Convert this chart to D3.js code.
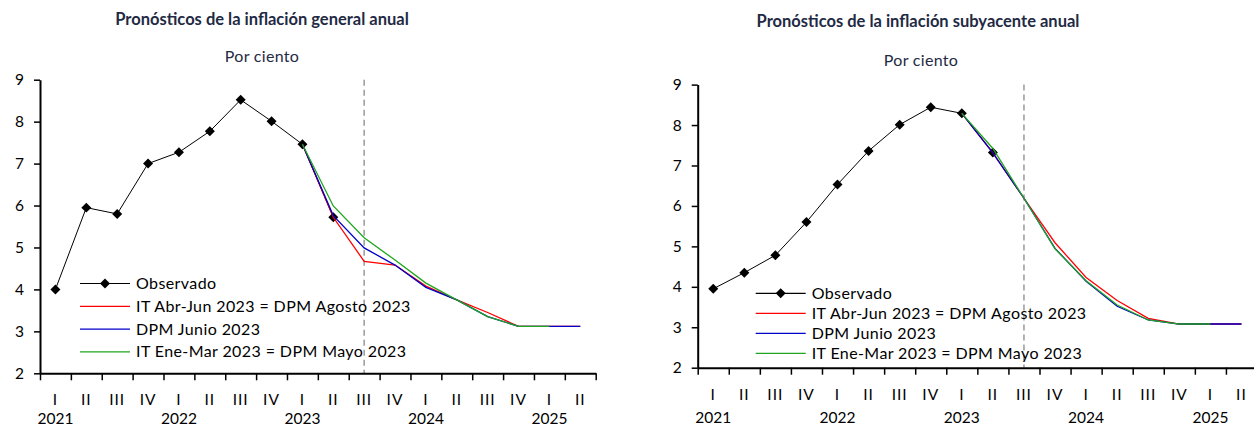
<!DOCTYPE html>
<html><head><meta charset="utf-8">
<script src="https://cdn.jsdelivr.net/npm/d3@7"></script>
<style>
html,body{margin:0;padding:0;background:#fff;}
svg{display:block;}
text{font-family:Lato,"Open Sans",sans-serif;}
</style></head>
<body>
<svg id="c" width="1254" height="426"></svg>
<script>
const quarters = ["I","II","III","IV","I","II","III","IV","I","II","III","IV","I","II","III","IV","I","II"];
const years = ["2021","2022","2023","2024","2025"];
const yearIndex = [0,4,8,12,16];
const yTicks = [2,3,4,5,6,7,8,9];
const forecastStart = 8;   // 2023 I
const dashIndex = 10;      // 2023 III

// Left: inflación general
const generalObs     = [4.0,5.95,5.8,7.0,7.27,7.77,8.52,8.01,7.46,5.72];
const generalAbrJun  = [7.46,5.72,4.67,4.58,4.08,3.75,3.45,3.12,3.12,3.12];
const generalJunio   = [7.46,5.76,4.99,4.58,4.05,3.75,3.35,3.12,3.12,3.12];
const generalEneMar  = [7.46,5.99,5.23,4.70,4.15,3.75,3.35,3.12,3.12];

// Right: inflación subyacente
const coreObs    = [3.95,4.35,4.78,5.60,6.53,7.36,8.01,8.44,8.29,7.32];
const coreAbrJun = [8.29,7.31,6.19,5.09,4.23,3.66,3.22,3.08,3.08,3.08];
const coreJunio  = [8.29,7.31,6.19,4.95,4.14,3.52,3.18,3.08,3.08,3.08];
const coreEneMar = [8.29,7.42,6.19,4.94,4.15,3.55,3.18,3.08,3.08];

const legendLabels = ["Observado","IT Abr-Jun 2023 = DPM Agosto 2023","DPM Junio 2023","IT Ene-Mar 2023 = DPM Mayo 2023"];
const colors = {obs:"#000000", abr:"#FF0000", jun:"#0000C8", ene:"#1FA51F"};

const svg = d3.select("#c");

function drawChart(cfg){
  const g = svg.append("g");
  const xq = d3.scaleLinear().domain([0,18]).range([cfg.x0,cfg.x1]);
  const y = d3.scaleLinear().domain([2,9]).range([cfg.yb,cfg.yt]);
  const cx = i => xq(i+0.5);

  // titles
  g.append("text").attr("x",cfg.tx).attr("y",cfg.titleY).attr("text-anchor","middle")
    .attr("font-size",16.5).attr("font-weight","bold").attr("fill","#1F2A44").text(cfg.title);
  g.append("text").attr("x",cfg.sx).attr("y",cfg.subY).attr("text-anchor","middle")
    .attr("font-size",16).attr("letter-spacing",0.3).attr("fill","#1F2A44").text("Por ciento");

  // dashed line
  g.append("line").attr("x1",cx(dashIndex)).attr("x2",cx(dashIndex))
    .attr("y1",y(9)).attr("y2",y(2)).attr("stroke","#A0A0A0").attr("stroke-width",1.6)
    .attr("stroke-dasharray","6,4");

  // y axis
  const ya = g.append("g").attr("transform",`translate(${cfg.x0},0)`)
    .call(d3.axisLeft(y).tickValues(yTicks).tickFormat(d3.format("d")).tickSize(6).tickSizeOuter(0).tickPadding(10));
  ya.select(".domain").attr("stroke","#000").attr("stroke-width",2);
  ya.selectAll(".tick line").attr("stroke","#000").attr("stroke-width",1.5);
  ya.selectAll("text").attr("font-size",15.5).attr("fill","#000").attr("font-family","Lato,sans-serif");

  // x axis
  const xa = g.append("g").attr("transform",`translate(0,${cfg.yb})`)
    .call(d3.axisBottom(xq).tickValues(d3.range(0,19)).tickFormat("").tickSize(7).tickSizeOuter(0));
  xa.select(".domain").attr("stroke","#000").attr("stroke-width",2);
  xa.selectAll(".tick line").attr("stroke","#000").attr("stroke-width",1.5);

  g.selectAll(".qlab").data(quarters).enter().append("text").attr("class","qlab")
    .attr("x",(d,i)=>cx(i)).attr("y",cfg.qY).attr("text-anchor","middle")
    .attr("font-size",15.5).attr("letter-spacing",1).attr("fill","#000").text(d=>d);
  g.selectAll(".ylab").data(years).enter().append("text").attr("class","ylab")
    .attr("x",(d,i)=>cx(yearIndex[i])).attr("y",cfg.yrY).attr("text-anchor","middle")
    .attr("font-size",15.5).attr("fill","#000").text(d=>d);

  const line = d3.line().x(d=>cx(d.i)).y(d=>y(d.v));
  const obs = cfg.obs.map((v,i)=>({i,v}));
  g.append("path").datum(obs).attr("d",line).attr("fill","none").attr("stroke","#000").attr("stroke-width",1);
  g.selectAll(".mk").data(obs).enter().append("path").attr("class","mk")
    .attr("d",d3.symbol(d3.symbolSquare,50))
    .attr("transform",d=>`translate(${cx(d.i)},${y(d.v)}) rotate(45)`).attr("fill","#000");

  [[cfg.abr,colors.abr],[cfg.jun,colors.jun],[cfg.ene,colors.ene]].forEach(([arr,col])=>{
    const pts = arr.map((v,k)=>({i:forecastStart+k,v}));
    g.append("path").datum(pts).attr("d",line).attr("fill","none").attr("stroke",col).attr("stroke-width",1.3);
  });

  // legend
  const lc = [colors.obs,colors.abr,colors.jun,colors.ene];
  legendLabels.forEach((lab,k)=>{
    const ly = cfg.legY + k*cfg.legDy;
    g.append("line").attr("x1",cfg.legX).attr("x2",cfg.legX+50).attr("y1",ly).attr("y2",ly)
      .attr("stroke",lc[k]).attr("stroke-width",1.2);
    if(k===0){
      g.append("path").attr("d",d3.symbol(d3.symbolSquare,50))
        .attr("transform",`translate(${cfg.legX+25},${ly}) rotate(45)`).attr("fill","#000");
    }
    g.append("text").attr("x",cfg.legX+56).attr("y",ly+5.5).attr("font-size",16)
      .attr("letter-spacing",0.4).attr("fill","#000").text(lab);
  });
}

drawChart({title:"Pronósticos de la inflación general anual", tx:262, titleY:25, sx:262, subY:62,
  x0:40, x1:595.7, yb:373.3, yt:79.7, qY:405, yrY:424,
  obs:generalObs, abr:generalAbrJun, jun:generalJunio, ene:generalEneMar,
  legX:80, legY:283.5, legDy:22.8});
drawChart({title:"Pronósticos de la inflación subyacente anual", tx:918, titleY:27, sx:921, subY:66,
  x0:697.7, x1:1257, yb:367.7, yt:84.6, qY:400, yrY:423,
  obs:coreObs, abr:coreAbrJun, jun:coreJunio, ene:coreEneMar,
  legX:755.7, legY:293.3, legDy:20});
</script>
</body></html>
